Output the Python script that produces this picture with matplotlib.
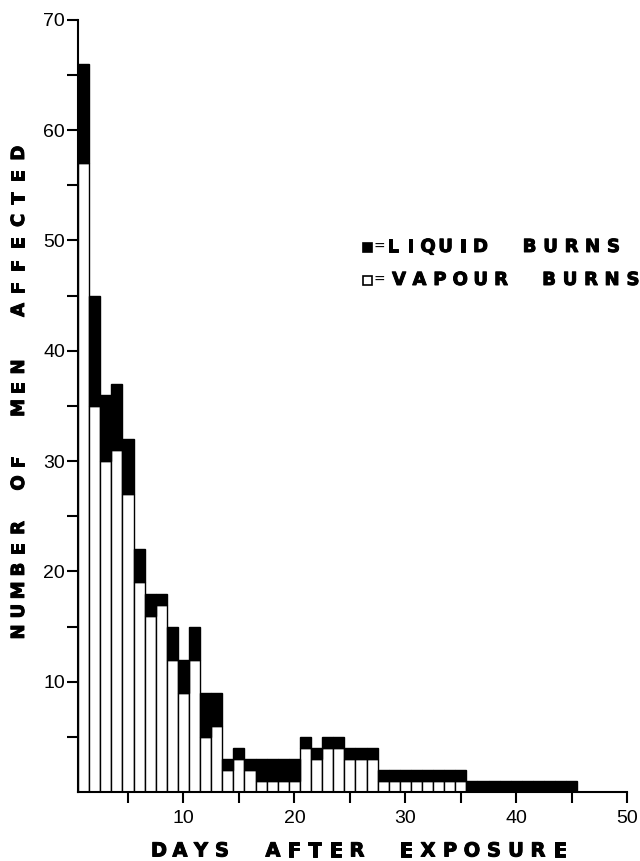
import numpy as np
import matplotlib.pyplot as plt
import matplotlib.patheffects as pe
from matplotlib.patches import Rectangle

# Cases per day after exposure
days = list(range(1, 46))
vapour = [57, 35, 30, 31, 27, 19, 16, 17, 12, 9, 12, 5, 6,
          2, 3, 2, 1, 1, 1, 1,
          4, 3, 4, 4, 3, 3, 3,
          1, 1, 1, 1, 1, 1, 1, 1,
          0, 0, 0, 0, 0, 0, 0, 0, 0, 0]
liquid = [9, 10, 6, 6, 5, 3, 2, 1, 3, 3, 3, 4, 3,
          1, 1, 1, 2, 2, 2, 2,
          1, 1, 1, 1, 1, 1, 1,
          1, 1, 1, 1, 1, 1, 1, 1,
          1, 1, 1, 1, 1, 1, 1, 1, 1, 1]

x_ticks = [10, 20, 30, 40, 50]
y_ticks = [10, 20, 30, 40, 50, 60, 70]

W, H = 640, 861

plt.rcParams['font.family'] = ['DejaVu Sans']

fig = plt.figure(figsize=(W / 100, H / 100), dpi=100)
ax = fig.add_axes([0.122, 0.080, 0.858, 0.897])

heavy = [pe.withStroke(linewidth=0.7, foreground='black')]


# hand-lettered look: place each letter on its own (pixel units)
def lettered(words, x0, y0, pitches, gaps, vertical=False, size=12):
    pos = 0.0
    for i, word in enumerate(words):
        if i > 0:
            pos += gaps[i - 1]
        for j, ch in enumerate(word):
            if j > 0:
                pos += pitches[i]
            if vertical:
                x, y = x0, y0 - pos
            else:
                x, y = x0 + pos, y0
            fig.text(x / W, 1 - y / H, ch, ha='center', va='center',
                     fontsize=size, fontweight='bold', path_effects=heavy,
                     rotation=90 if vertical else 0)


ax.bar(days, vapour, width=1.0, color='white', edgecolor='black', linewidth=1.0)
ax.bar(days, liquid, width=1.0, bottom=vapour, color='black', edgecolor='black', linewidth=1.0)

ax.set_xlim(0.5, 50)
ax.set_ylim(0, 70)

ax.spines['top'].set_visible(False)
ax.spines['right'].set_visible(False)
ax.spines['left'].set_linewidth(1.5)
ax.spines['bottom'].set_linewidth(1.5)

ax.set_xticks(x_ticks)
ax.set_xticks(np.arange(5, 50, 10), minor=True)
ax.set_yticks(y_ticks)
ax.set_yticks(np.arange(5, 70, 10), minor=True)
ax.tick_params(which='both', direction='out', length=8, width=1.5)
ax.tick_params(axis='both', labelsize=14)
ax.tick_params(axis='x', pad=5)
ax.tick_params(axis='y', pad=1.5)
for lab in ax.get_xticklabels() + ax.get_yticklabels():
    lab.set_family('Liberation Sans')

# axis titles
lettered(['DAYS', 'AFTER', 'EXPOSURE'], 159, 851, [21, 21, 22], [51, 49], size=14)
lettered(['NUMBER', 'OF', 'MEN', 'AFFECTED'], 19, 632,
         [20.8, 21, 20.5, 22.4], [45, 54, 57], vertical=True, size=13)

# key
fig.patches.append(Rectangle((363 / W, 1 - 252 / H), 9 / W, 9 / H,
                             facecolor='black', edgecolor='black', lw=1.2,
                             transform=fig.transFigure, figure=fig))
fig.patches.append(Rectangle((363 / W, 1 - 285 / H), 9 / W, 9 / H,
                             facecolor='white', edgecolor='black', lw=1.2,
                             transform=fig.transFigure, figure=fig))
fig.text(379 / W, 1 - 247 / H, '=', ha='center', va='center', fontsize=10)
fig.text(379 / W, 1 - 280 / H, '=', ha='center', va='center', fontsize=10)
lettered(['LIQUID', 'BURNS'], 393, 247, [17.5, 21], [49], size=13)
lettered(['VAPOUR', 'BURNS'], 399, 280, [20.4, 21], [48], size=13)

fig.savefig('out.png', dpi=100)
